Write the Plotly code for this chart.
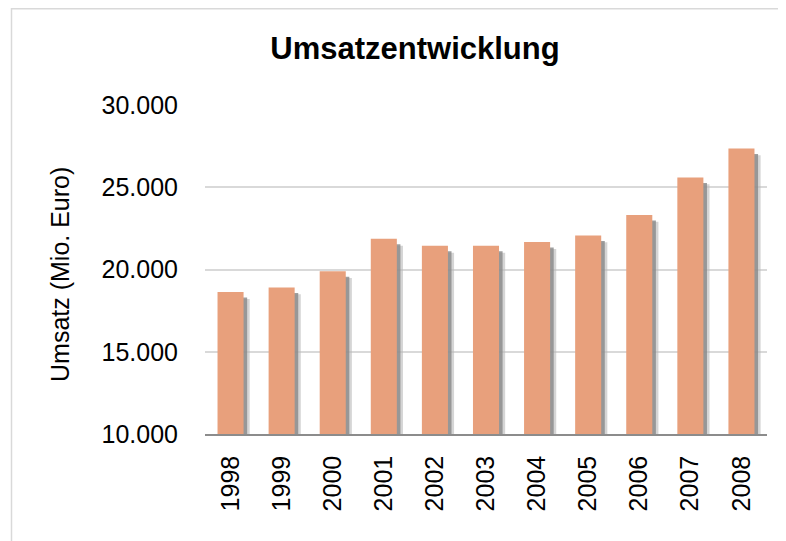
import plotly.graph_objects as go

years = ["1998", "1999", "2000", "2001", "2002", "2003", "2004", "2005", "2006", "2007", "2008"]
umsatz = [18630, 18910, 19900, 21870, 21440, 21440, 21670, 22070, 23320, 25600, 27360]
y_ticks = [10000, 15000, 20000, 25000, 30000]

bar_color = "#E8A07C"
W = 0.51
FONT = "Liberation Sans, Arial, sans-serif"

# plot area in figure pixels (page adds an 8px body margin)
L, T, R, B = 197, 97, 27, 115
PW = 786 - L - R
PH = 541 - T - B

fig = go.Figure()
# soft shadow layers
drop = 420
fig.add_trace(go.Bar(x=years, y=[v - drop for v in umsatz], width=W, offset=-W / 2 + 0.12,
                     marker=dict(color="rgba(185,185,185,0.6)", line=dict(width=0)),
                     hoverinfo="skip", showlegend=False))
fig.add_trace(go.Bar(x=years, y=[v - drop * 0.8 for v in umsatz], width=W, offset=-W / 2 + 0.07,
                     marker=dict(color="rgba(135,135,135,0.8)", line=dict(width=0)),
                     hoverinfo="skip", showlegend=False))
fig.add_trace(go.Bar(x=years, y=umsatz, width=W, offset=-W / 2,
                     marker=dict(color=bar_color, line=dict(width=0)),
                     name="Umsatz", showlegend=False))

fig.update_layout(
    width=786, height=541,
    margin=dict(l=L, r=R, t=T, b=B),
    paper_bgcolor="white", plot_bgcolor="white",
    barmode="overlay",
    separators=",.",
    font=dict(family=FONT, color="#000000", size=25),
    title=dict(text="<b>Umsatzentwicklung</b>", x=407 / 786, xanchor="center",
               y=1 - 40 / 541, yanchor="middle", font=dict(size=31, family=FONT, color="#000")),
    xaxis=dict(type="category", tickangle=-90, showgrid=False, showline=True,
               linecolor="#8c8c8c", linewidth=1.5, ticks="", tickfont=dict(size=25),
               ticklabelstandoff=10),
    yaxis=dict(range=[10000, 30000], tickvals=y_ticks, tickformat=",.0f",
               showgrid=True, gridcolor="#d9d9d9", gridwidth=1.5, zeroline=False,
               showline=False, ticks="", tickfont=dict(size=25), ticklabelstandoff=26),
    annotations=[dict(text="Umsatz (Mio. Euro)", textangle=-90, xref="paper", yref="paper",
                      x=(52 - L) / PW, y=(T + PH - 267) / PH, xanchor="center", yanchor="middle",
                      showarrow=False, font=dict(size=25, family=FONT, color="#000"))],
    shapes=[dict(type="rect", xref="paper", yref="paper",
                 x0=(3.5 - L) / PW, x1=(820 - L) / PW,
                 y0=(T + PH - 600) / PH, y1=(T + PH - 0.8) / PH,
                 line=dict(color="#d9d9d9", width=1.5), fillcolor="rgba(0,0,0,0)", layer="below")],
)

fig.write_html("out.html")
